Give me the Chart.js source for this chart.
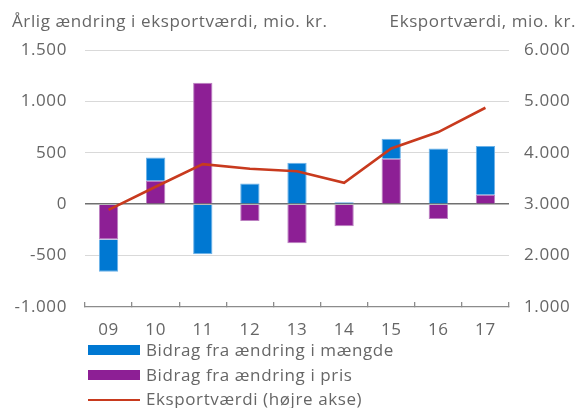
<!DOCTYPE html>
<html lang="da">
<head>
<meta charset="utf-8">
<script src="https://cdn.jsdelivr.net/npm/chart.js@4/dist/chart.umd.min.js"></script>
<style>
  body { margin: 0; background: #fff; }
  #wrap { position: relative; width: 576px; height: 408px; font-family: "Open Sans", sans-serif; font-size: 17px; color: #666; letter-spacing: 0.6px; }
  #chart { position: absolute; left: 0; top: 0; }
  .axis-title { position: absolute; top: 11px; line-height: 20px; white-space: nowrap; }
  #title-left { left: 12px; }
  #title-right { right: 0; }
  #legend { position: absolute; left: 88px; top: 340px; display: flex; flex-direction: column; gap: 4.7px; }
  .item { display: flex; align-items: center; height: 20px; line-height: 20px; white-space: nowrap; }
  .swatch { width: 52px; height: 10px; margin-right: 6px; }
  .swatch.line { height: 2.5px; margin-top: 1px; }
</style>
</head>
<body>
<div id="wrap">
  <canvas id="chart" width="576" height="340"></canvas>
  <div class="axis-title" id="title-left">Årlig ændring i eksportværdi, mio. kr.</div>
  <div class="axis-title" id="title-right">Eksportværdi, mio. kr.</div>
  <div id="legend"></div>
</div>
<script>
const categories = ["09", "10", "11", "12", "13", "14", "15", "16", "17"];
const bidragMaengde = [-312, 228, -487, 202, 403, 20, 195, 543, 474];
const bidragPris = [-344, 227, 1182, -163, -380, -214, 441, -143, 91];
const eksportvaerdi = [2890, 3340, 3780, 3690, 3640, 3415, 4085, 4404, 4877];

const BLUE = "#0078d2";
const PURPLE = "#8d1f95";
const RED = "#c83a1e";
const TEXT = "#666666";
const FONT = { family: "'Open Sans', sans-serif", size: 17 };

function fmt(v) {
  return Number(v).toLocaleString("en-US").replace(/,/g, ".");
}

const series = [
  { label: "Bidrag fra ændring i mængde", data: bidragMaengde, color: BLUE, edge: "#6cb2e8", kind: "bar", order: 2 },
  { label: "Bidrag fra ændring i pris", data: bidragPris, color: PURPLE, edge: "#bb80c0", kind: "bar", order: 1 },
  { label: "Eksportværdi (højre akse)", data: eksportvaerdi, color: RED, kind: "line", order: 0 }
];

const datasets = series.map((s) => {
  if (s.kind === "line") {
    return {
      type: "line", label: s.label, data: s.data, yAxisID: "y2", order: s.order,
      borderColor: s.color, borderWidth: 2.6, pointRadius: 0, tension: 0, fill: false
    };
  }
  return {
    type: "bar", label: s.label, data: s.data, yAxisID: "y", order: s.order,
    backgroundColor: s.color, borderColor: s.edge, borderWidth: 1, borderSkipped: "start",
    categoryPercentage: 1, barPercentage: 0.41
  };
});

new Chart(document.getElementById("chart"), {
  data: { labels: categories, datasets },
  options: {
    responsive: false,
    animation: false,
    layout: { padding: { top: 50, bottom: 0, left: 0, right: 0 } },
    plugins: { legend: { display: false }, tooltip: { enabled: false } },
    scales: {
      x: {
        stacked: true,
        afterFit: (scale) => { scale.height = 33; },
        grid: { drawOnChartArea: false, drawTicks: true, tickLength: -5, color: "#8c8c8c", lineWidth: 1.3, offset: true },
        border: { display: true, color: "#8c8c8c", width: 1.3 },
        ticks: { color: TEXT, font: FONT, padding: 18, maxRotation: 0, autoSkip: false }
      },
      y: {
        position: "left",
        stacked: true,
        min: -1000, max: 1500,
        afterFit: (scale) => { scale.width = 85; },
        grid: {
          drawTicks: false,
          color: (ctx) => ctx.tick.value === 0 ? "#707070" : (ctx.tick.value === -1000 ? "rgba(0,0,0,0)" : "#d9d9d9"),
          lineWidth: (ctx) => ctx.tick.value === 0 ? 1.5 : 1
        },
        border: { display: false },
        ticks: { stepSize: 500, color: TEXT, font: FONT, padding: 18, callback: (v) => fmt(v) }
      },
      y2: {
        position: "right",
        min: 1000, max: 6000,
        afterFit: (scale) => { scale.width = 67; },
        grid: { display: false, drawTicks: false },
        border: { display: false },
        ticks: { stepSize: 1000, color: TEXT, font: FONT, padding: 15, callback: (v) => fmt(v) }
      }
    }
  }
});

const legend = document.getElementById("legend");
series.forEach((s) => {
  const item = document.createElement("div");
  item.className = "item";
  item.innerHTML = `<span class="swatch ${s.kind === "line" ? "line" : ""}" style="background:${s.color}"></span><span>${s.label}</span>`;
  legend.appendChild(item);
});
</script>
</body>
</html>
